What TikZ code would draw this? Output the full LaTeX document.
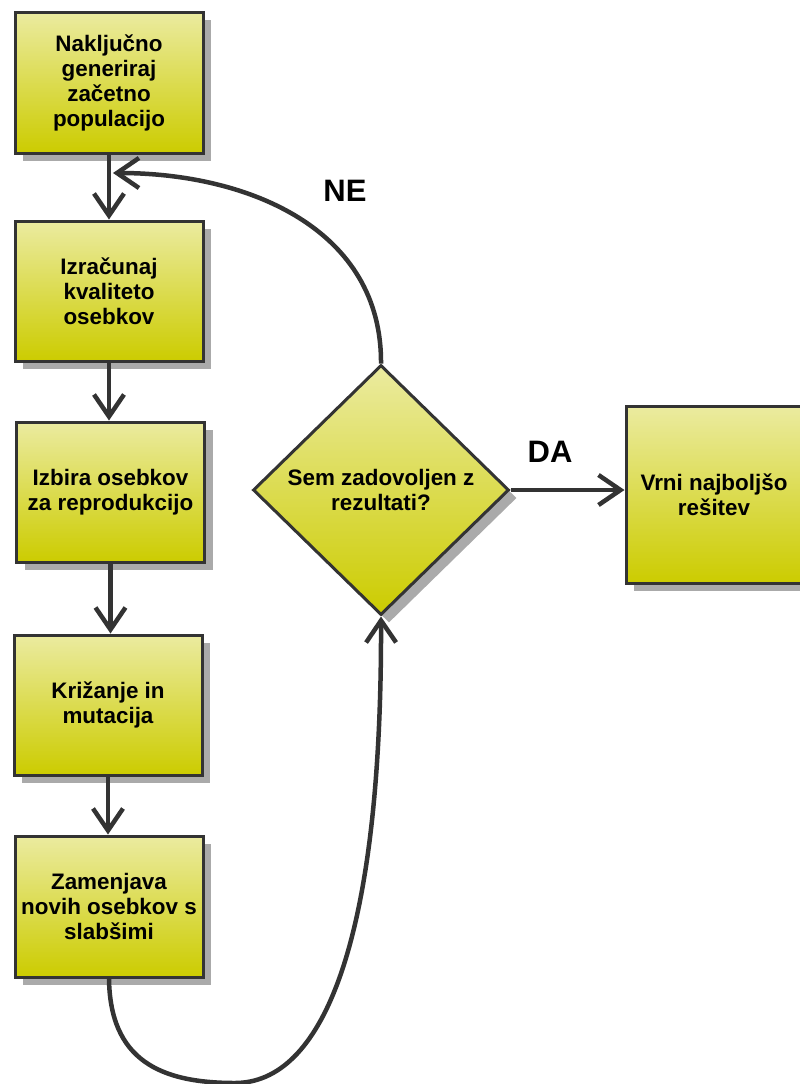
\documentclass[tikz,border=0pt]{standalone}
\usepackage{fontspec}
\setmainfont{Liberation Sans}
\usetikzlibrary{arrows.meta,shapes.geometric,shadows}
\definecolor{ytop}{RGB}{235,235,160}
\definecolor{ybot}{RGB}{204,204,0}
\definecolor{edge}{RGB}{51,51,51}
\definecolor{shad}{RGB}{170,170,170}
\tikzset{
  stepbox/.style={rectangle, draw=edge, line width=3pt, top color=ytop, bottom color=ybot,
    drop shadow={shadow xshift=8pt, shadow yshift=-8pt, fill=shad, draw=none, opacity=1},
    inner sep=0pt, align=center, font=\bfseries\fontsize{22.4}{25}\selectfont},
  decbox/.style={diamond, draw=edge, line width=3pt, top color=ytop, bottom color=ybot,
    drop shadow={shadow xshift=8pt, shadow yshift=-8pt, fill=shad, draw=none, opacity=1},
    inner sep=0pt, align=center, minimum width=256pt, minimum height=250pt,
    font=\bfseries\fontsize{22.4}{25}\selectfont},
  arr/.style={draw=edge, line width=4.5pt, -{Straight Barb[length=22pt,width=30pt]}},
  lbl/.style={font=\bfseries\fontsize{31}{31}\selectfont, text=black}
}
\begin{document}
\begin{tikzpicture}[x=1pt,y=-1pt]
\useasboundingbox (0,0) rectangle (800,1084);
\node[stepbox, minimum width=188pt, minimum height=141pt] (b1) at (109,82.5) {Naključno\\generiraj\\začetno\\populacijo};
\node[stepbox, minimum width=188pt, minimum height=140pt] (b2) at (109,291) {Izračunaj\\kvaliteto\\osebkov};
\node[stepbox, minimum width=188pt, minimum height=140pt] (b3) at (110.5,492) {Izbira osebkov\\za reprodukcijo};
\node[stepbox, minimum width=188pt, minimum height=140pt] (b4) at (108,705) {Križanje in\\mutacija};
\node[stepbox, minimum width=188pt, minimum height=141pt] (b5) at (109,906.5) {Zamenjava\\novih osebkov s\\slabšimi};
\node[decbox] (dec) at (381,490) {Sem zadovoljen z\\rezultati?};
\node[stepbox, minimum width=176pt, minimum height=177pt] (res) at (714,494.5) {Vrni najboljšo\\rešitev};
\coordinate (join) at (113,173);
\coordinate (low) at (235,1083);
\draw[arr] (b1.south) -- (b1.south |- b2.north);
\draw[arr] (b2.south) -- (b2.south |- b3.north);
\draw[arr] (b3.south) -- (b3.south |- b4.north);
\draw[arr] (b4.south) -- (b4.south |- b5.north);
\draw[arr] (dec.north) .. controls (382,230) and (250,173) .. (join);
\draw[arr] (b5.south) .. controls (110,1060) and (160,1083) .. (low) .. controls (320,1083) and (382,950) .. (dec.south);
\draw[arr] (dec.east) -- (dec.east -| res.west);
\node[lbl] (ne) at (345,191) {NE};
\node[lbl] (da) at (550,452) {DA};
\end{tikzpicture}
\end{document}
